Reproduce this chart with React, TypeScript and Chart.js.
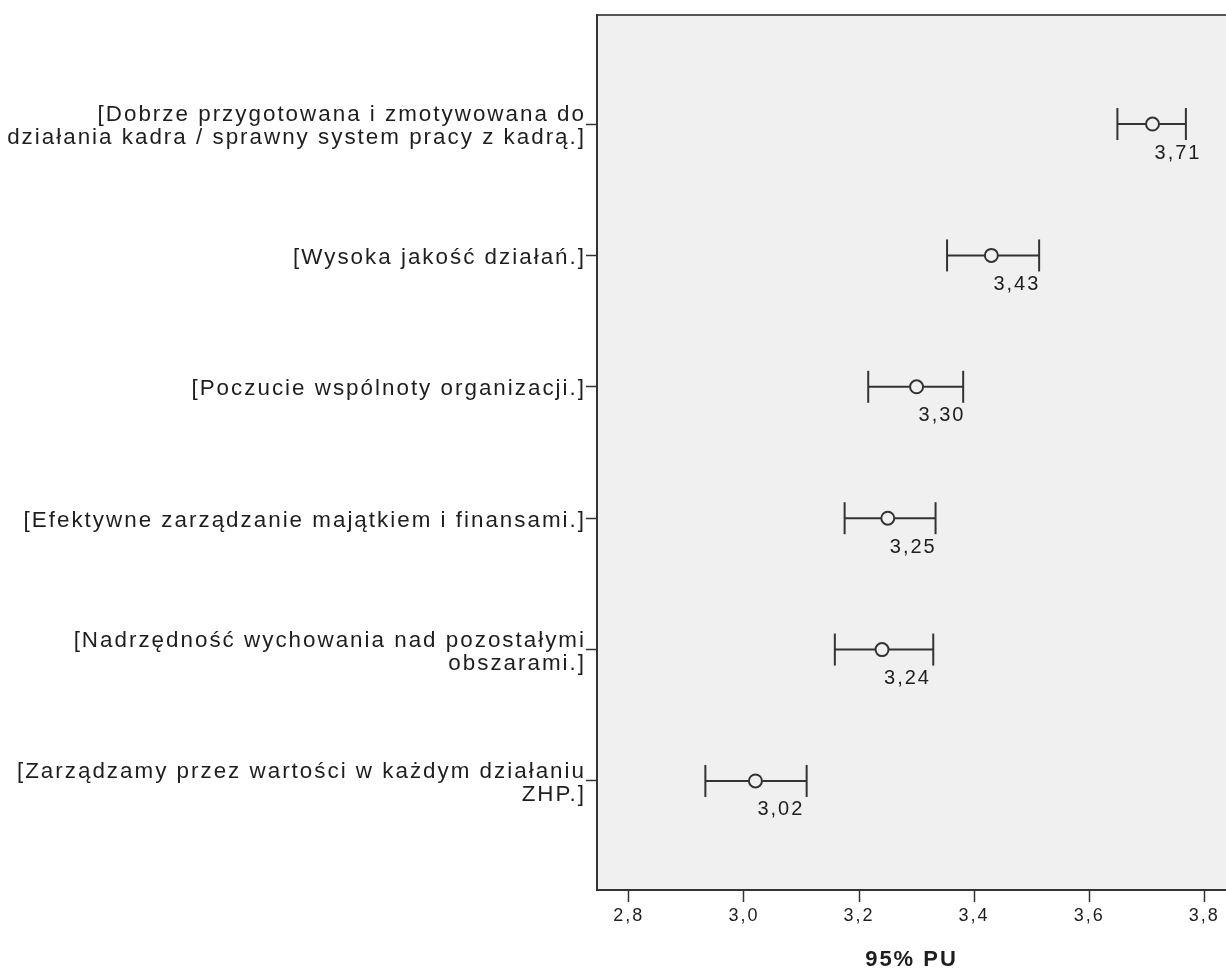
import React, { useEffect, useRef } from "react";
import Chart from "chart.js/auto";

const categories: string[][] = [
  ["[Dobrze przygotowana i zmotywowana do", "działania kadra / sprawny system pracy z kadrą.]"],
  ["[Wysoka jakość działań.]"],
  ["[Poczucie wspólnoty organizacji.]"],
  ["[Efektywne zarządzanie majątkiem i finansami.]"],
  ["[Nadrzędność wychowania nad pozostałymi", "obszarami.]"],
  ["[Zarządzamy przez wartości w każdym działaniu", "ZHP.]"],
];
const means = [3.71, 3.43, 3.3, 3.25, 3.24, 3.02];
const lowerCI = [3.649, 3.353, 3.216, 3.175, 3.158, 2.933];
const upperCI = [3.768, 3.513, 3.381, 3.333, 3.329, 3.109];
const xTicks = [2.8, 3.0, 3.2, 3.4, 3.6, 3.8];
const xTitle = "95% PU";

const FONT = "'Liberation Sans', Arial, sans-serif";
const INK = "#1e1e1e";
const LINE = "#333";
const PLOT_BG = "#f0f0f0";

const fmt = (v: number, d: number) => v.toFixed(d).replace(".", ",");

export default function App() {
  const ref = useRef<HTMLCanvasElement | null>(null);

  useEffect(() => {
    const canvas = ref.current;
    if (!canvas) return;

    const spacing = {
      id: "spacing",
      beforeUpdate(chart: any) {
        chart.ctx.letterSpacing = "2px";
      },
      beforeDraw(chart: any) {
        const ctx = chart.ctx;
        ctx.letterSpacing = "2px";
        const a = chart.chartArea;
        ctx.save();
        ctx.fillStyle = PLOT_BG;
        ctx.fillRect(a.left, a.top, a.right - a.left, a.bottom - a.top);
        ctx.strokeStyle = "#555";
        ctx.lineWidth = 2;
        ctx.beginPath();
        ctx.moveTo(a.left, a.top);
        ctx.lineTo(a.right, a.top);
        ctx.stroke();
        ctx.restore();
      },
      afterDraw(chart: any) {
        const ctx = chart.ctx;
        const xs = chart.scales.x;
        const ys = chart.scales.y;
        ctx.save();
        ctx.letterSpacing = "2px";
        ctx.font = `20px ${FONT}`;
        ctx.fillStyle = INK;
        ctx.textAlign = "left";
        ctx.textBaseline = "middle";
        means.forEach((m, i) => {
          const px = xs.getPixelForValue(m);
          const py = ys.getPixelForValue(i);
          ctx.fillText(fmt(m, 2), px + 2, py + 29);
        });
        ctx.restore();
      },
    };

    const ciSets = categories.map((_, i) => ({
      data: [
        { x: lowerCI[i], y: i },
        { x: upperCI[i], y: i },
      ],
      showLine: true,
      borderColor: LINE,
      borderWidth: 2,
      pointStyle: "line" as const,
      pointRotation: 90,
      pointRadius: 16,
      pointHoverRadius: 16,
      pointBorderWidth: 2,
      pointBorderColor: LINE,
      pointBackgroundColor: LINE,
    }));

    const meanSet = {
      data: means.map((m, i) => ({ x: m, y: i })),
      showLine: false,
      pointStyle: "circle" as const,
      pointRadius: 6.5,
      pointHoverRadius: 6.5,
      pointBorderWidth: 2,
      pointBorderColor: LINE,
      pointBackgroundColor: PLOT_BG,
    };

    const chart = new Chart(canvas, {
      type: "scatter",
      data: { datasets: [meanSet as any, ...(ciSets as any)] },
      options: {
        responsive: false,
        animation: false,
        events: [],
        layout: { autoPadding: false, padding: { top: 15, left: 0, right: 0, bottom: 0 } },
        plugins: { legend: { display: false }, tooltip: { enabled: false } },
        scales: {
          x: {
            type: "linear",
            min: 2.7447,
            max: 3.8377,
            afterBuildTicks: (s: any) => {
              s.ticks = xTicks.map((v) => ({ value: v }));
            },
            afterFit: (s: any) => {
              s.height = 88;
              s.paddingLeft = 0;
              s.paddingRight = 0;
              s.paddingTop = 0;
              s.paddingBottom = 0;
            },
            ticks: {
              callback: (v: any) => fmt(Number(v), 1),
              color: INK,
              font: { family: FONT, size: 18 },
              padding: 3,
              maxRotation: 0,
              autoSkip: false,
            },
            grid: {
              drawOnChartArea: false,
              drawTicks: true,
              tickLength: 12,
              tickColor: LINE,
              tickWidth: 1.5,
            },
            border: { display: true, color: LINE, width: 2 },
            title: {
              display: true,
              text: xTitle,
              color: INK,
              font: { family: FONT, size: 22, weight: "bold" },
              padding: { top: 0, bottom: 5 },
            },
          },
          y: {
            type: "linear",
            reverse: true,
            min: -0.83,
            max: 5.83,
            afterBuildTicks: (s: any) => {
              s.ticks = categories.map((_, i) => ({ value: i }));
            },
            afterFit: (s: any) => {
              s.width = 597;
              s.paddingLeft = 0;
              s.paddingRight = 0;
              s.paddingTop = 0;
              s.paddingBottom = 0;
            },
            ticks: {
              callback: (v: any) => categories[Math.round(Number(v))] as any,
              color: INK,
              font: { family: FONT, size: 22.4, lineHeight: 1.03 },
              padding: 0,
              labelOffset: 2.5,
              autoSkip: false,
            },
            grid: {
              drawOnChartArea: false,
              drawTicks: true,
              tickLength: 11,
              tickColor: LINE,
              tickWidth: 1.5,
            },
            border: { display: true, color: LINE, width: 2 },
          },
        },
      },
      plugins: [spacing as any],
    });

    return () => chart.destroy();
  }, []);

  return (
    <div
      style={{
        position: "fixed",
        left: 0,
        top: 0,
        width: 1226,
        height: 978,
        overflow: "hidden",
        background: "#fff",
      }}
    >
      <canvas ref={ref} width={1226} height={978} style={{ width: 1226, height: 978, display: "block" }} />
    </div>
  );
}
